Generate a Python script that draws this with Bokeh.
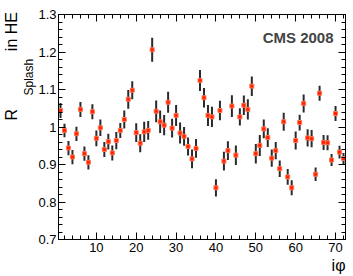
from bokeh.plotting import figure
from bokeh.models import (Range1d, LinearAxis, FixedTicker, NumeralTickFormatter,
                          Label, Title, ColumnDataSource)
from bokeh.embed import file_html
from bokeh.resources import INLINE

iphi = list(range(1, 73))
r_splash = [1.044, 0.991, 0.944, 0.920, 0.982, 1.047, 0.929, 0.906, 1.041, 0.970,
            0.998, 0.940, 0.961, 0.931, 0.964, 0.991, 1.020, 1.074, 1.098, 0.985,
            0.957, 0.987, 0.991, 1.206, 1.042, 1.014, 1.005, 1.066, 0.997, 1.031,
            0.984, 0.975, 0.948, 0.915, 0.943, 1.124, 1.078, 1.031, 1.027, 0.838,
            1.044, 0.909, 0.937, 1.056, 0.925, 1.027, 1.058, 1.047, 1.109, 0.929,
            0.951, 0.995, 0.972, 0.917, 0.937, 0.889, 1.014, 0.867, 0.838, 0.964,
            1.012, 1.063, 0.971, 0.969, 0.874, 1.090, 0.959, 0.958, 0.912, 1.036,
            0.933, 0.916]
r_err = [0.020, 0.018, 0.019, 0.019, 0.019, 0.020, 0.019, 0.019, 0.020, 0.021,
         0.022, 0.020, 0.021, 0.020, 0.023, 0.020, 0.024, 0.025, 0.024, 0.025,
         0.024, 0.027, 0.025, 0.032, 0.029, 0.030, 0.027, 0.028, 0.025, 0.028,
         0.028, 0.025, 0.024, 0.025, 0.025, 0.028, 0.026, 0.028, 0.027, 0.023,
         0.026, 0.025, 0.025, 0.029, 0.026, 0.023, 0.026, 0.027, 0.026, 0.026,
         0.028, 0.025, 0.025, 0.023, 0.023, 0.022, 0.024, 0.021, 0.020, 0.024,
         0.021, 0.024, 0.023, 0.023, 0.018, 0.020, 0.020, 0.020, 0.016, 0.020,
         0.017, 0.015]
x_ticks = [10, 20, 30, 40, 50, 60, 70]
y_ticks = [0.7, 0.8, 0.9, 1.0, 1.1, 1.2, 1.3]
ylabel_main = "R" + "\u00a0" * 13 + "in HE"
ylabel_sub = "Splash"
xlabel = "iφ"
tag = "CMS 2008"

FONT = "Liberation Sans"

p = figure(width=353, height=276, output_backend="svg", toolbar_location=None,
           x_range=Range1d(0.5, 72.5), y_range=Range1d(0.7, 1.3),
           min_border_left=57, min_border_right=8, min_border_top=14, min_border_bottom=37,
           x_axis_location=None, y_axis_location=None)
p.xgrid.visible = False
p.ygrid.visible = False
p.outline_line_color = "black"
p.outline_line_width = 1
p.background_fill_color = "white"
p.border_fill_color = "white"

x_minor = [v for v in range(2, 73, 2) if v % 10 != 0]
y_minor = [round(0.7 + 0.02 * k, 2) for k in range(31) if k % 5 != 0]

def style(ax, labels, xaxis):
    ax.ticker = FixedTicker(ticks=x_ticks if xaxis else y_ticks,
                            minor_ticks=x_minor if xaxis else y_minor)
    ax.major_tick_out = 0
    ax.minor_tick_out = 0
    ax.major_tick_in = 7
    ax.minor_tick_in = 4
    ax.axis_line_color = "black"
    ax.major_tick_line_color = "black"
    ax.minor_tick_line_color = "black"
    if labels:
        ax.major_label_text_font = FONT
        ax.major_label_text_font_size = "13px"
        ax.major_label_text_color = "black"
        ax.major_label_standoff = 3
    else:
        ax.major_label_text_font_size = "0px"
        ax.major_label_standoff = 0
        ax.major_label_text_alpha = 0

bx = LinearAxis(); style(bx, True, True)
tx = LinearAxis(); style(tx, False, True)
ly = LinearAxis(); style(ly, True, False)
ly.major_label_standoff = 2
ly.formatter = NumeralTickFormatter(format="0.[0]")
ry = LinearAxis(); style(ry, False, False)
p.add_layout(bx, "below")
p.add_layout(tx, "above")
p.add_layout(ly, "left")
p.add_layout(ry, "right")

# x-axis title
p.add_layout(Title(text=xlabel, align="right", text_font=FONT, text_font_size="16px",
                   text_font_style="normal", text_color="black", standoff=0), "below")
# y-axis title: subscript part (nearer the frame) and main part (outer)
p.add_layout(Title(text=ylabel_sub, align="left", offset=144, text_font=FONT,
                   text_font_size="12px", text_font_style="normal", text_color="black",
                   standoff=0), "left")
p.add_layout(Title(text=ylabel_main, align="left", offset=119, text_font=FONT,
                   text_font_size="16px", text_font_style="normal", text_color="black",
                   standoff=0), "left")

lo = [v - e for v, e in zip(r_splash, r_err)]
hi = [v + e for v, e in zip(r_splash, r_err)]
src = ColumnDataSource(dict(x=iphi, y=r_splash, lo=lo, hi=hi))
p.segment(x0="x", y0="lo", x1="x", y1="hi", source=src, line_color="#2a2a2a", line_width=2)
p.scatter(x="x", y="y", source=src, marker="square", size=4, fill_color="#ff2200",
          line_color="#ff7755", line_width=1)

p.add_layout(Label(x=275, y=202, x_units="screen", y_units="screen", text=tag,
                   text_font=FONT, text_font_style="bold", text_font_size="15px",
                   text_align="right", text_baseline="alphabetic"))

open("out.html", "w").write(file_html(p, INLINE))
